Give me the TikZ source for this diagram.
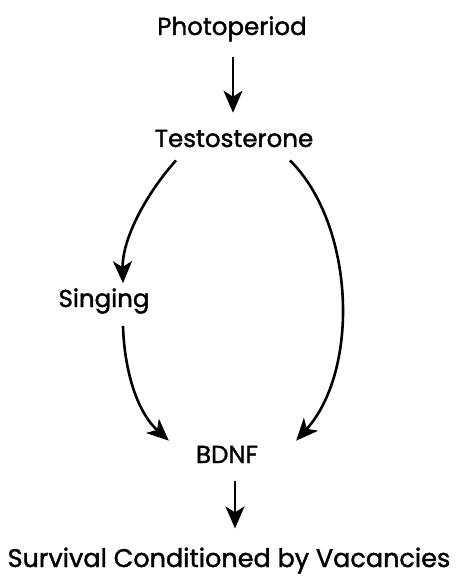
\documentclass[tikz,border=0pt]{standalone}
\usepackage{fontspec}
\setmainfont{Poppins}[FakeBold=1.5]
\usetikzlibrary{arrows.meta}
\begin{document}
\begin{tikzpicture}[x=1pt,y=-1pt,
  lbl/.style={inner sep=0pt,anchor=base,font=\fontsize{24.5}{28}\selectfont},
  arr/.style={line width=2.6pt,-{Stealth[length=22pt,width=19pt,inset=6pt]}}]
\useasboundingbox (0,0) rectangle (456,577);
\node[lbl] (photo) at (232,35) {Photoperiod};
\node[lbl] (testo) at (234,147) {Testosterone};
\node[lbl] (sing) at (104,307) {Singing};
\node[lbl] (bdnf) at (227,463) {BDNF};
\node[lbl,font=\fontsize{25.5}{28}\selectfont] (surv) at (229,567) {Survival Conditioned by Vacancies};
\draw[arr] ([xshift=1pt,yshift=-15pt]photo.south) -- ([xshift=-1pt,yshift=17pt]testo.north);
\draw[arr] ([xshift=-58pt,yshift=-13pt]testo.south) .. controls (145,195) and (122,240) .. ([xshift=19pt,yshift=5pt]sing.north);
\draw[arr] ([xshift=19pt,yshift=-12pt]sing.south) .. controls (124,365) and (135,410) .. ([xshift=-27pt,yshift=5pt]bdnf.north west);
\draw[arr] ([xshift=56pt,yshift=-13pt]testo.south) .. controls (355,225) and (360,370) .. ([xshift=38pt,yshift=5pt]bdnf.north east);
\draw[arr] ([xshift=8pt,yshift=-18pt]bdnf.south) -- ([xshift=6pt,yshift=19pt]surv.north);
\end{tikzpicture}
\end{document}
